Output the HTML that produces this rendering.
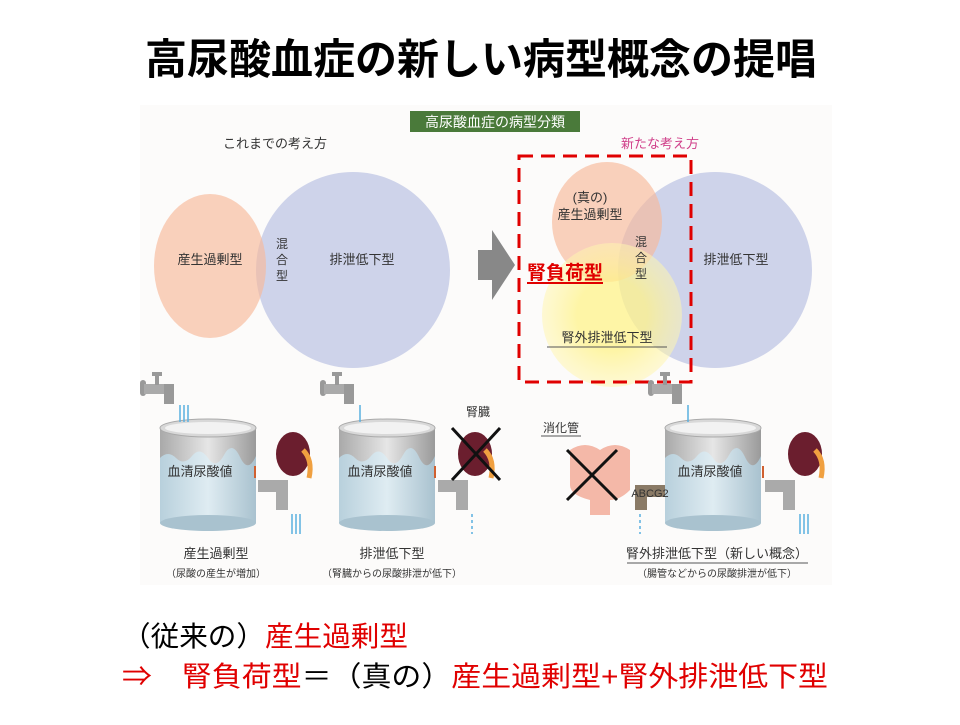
<!DOCTYPE html>
<html><head><meta charset="utf-8"><style>
body{margin:0;width:960px;height:720px;background:#fff;overflow:hidden;font-family:"Liberation Sans","Noto Sans CJK JP",sans-serif}
svg text{font-family:"Liberation Sans","Noto Sans CJK JP",sans-serif}
</style></head><body>
<svg width="960" height="720" viewBox="0 0 960 720">
<defs>
<linearGradient id="tank" x1="0" x2="1"><stop offset="0" stop-color="#b8d0dc"/><stop offset="0.5" stop-color="#dfecf2"/><stop offset="1" stop-color="#a9c2cf"/></linearGradient>
<linearGradient id="tankTop" x1="0" x2="1"><stop offset="0" stop-color="#a9a9a9"/><stop offset="0.5" stop-color="#e6e6e6"/><stop offset="1" stop-color="#9a9a9a"/></linearGradient>
<radialGradient id="yel"><stop offset="0.5" stop-color="#fff38a"/><stop offset="1" stop-color="#fff6b0" stop-opacity="0.7"/></radialGradient>
<g id="tk">
<rect x="0" y="10" width="96" height="95" fill="url(#tankTop)"/>
<path d="M0 40 q8 -8 16 0 t16 -2 t16 2 t16 -3 t16 2 t16 -1 V105 H0Z" fill="url(#tank)"/>
<ellipse cx="48" cy="105" rx="48" ry="8" fill="#a9c2cf"/>
<ellipse cx="48" cy="10" rx="48" ry="9" fill="#d8d8d8" stroke="#aaa"/>
<ellipse cx="48" cy="10" rx="43" ry="6" fill="#f2f2f2"/>
</g>
<g id="tap">
<rect x="0" y="8" width="6" height="16" rx="3" fill="#999"/>
<rect x="4" y="12" width="28" height="10" fill="#aaa"/>
<rect x="12" y="0" width="10" height="4" fill="#999"/><rect x="15" y="3" width="4" height="10" fill="#999"/>
<rect x="24" y="12" width="10" height="20" fill="#999"/>
</g>
<g id="kid">
<ellipse cx="18" cy="22" rx="17" ry="22" fill="#6b1e2e"/>
<path d="M28 18 q10 10 6 28" stroke="#f0a040" stroke-width="5" fill="none"/>
</g>
</defs>
<text x="481" y="74" font-size="42" font-weight="bold" text-anchor="middle">高尿酸血症の新しい病型概念の提唱</text>
<rect x="140" y="105" width="692" height="480" fill="#fcfbfa"/>
<rect x="410" y="111" width="170" height="21" fill="#4a7a3a"/>
<text x="495" y="127" font-size="14" fill="#fff" text-anchor="middle">高尿酸血症の病型分類</text>
<text x="275" y="148" font-size="13" fill="#333" text-anchor="middle">これまでの考え方</text>
<text x="660" y="148" font-size="13" fill="#d0408a" text-anchor="middle">新たな考え方</text>
<ellipse cx="353" cy="270" rx="97" ry="98" fill="#c5cbe6" opacity="0.85"/>
<ellipse cx="210" cy="266" rx="56" ry="72" fill="#f7b89a" opacity="0.65"/>
<text x="210" y="264" font-size="13" fill="#333" text-anchor="middle">産生過剰型</text>
<text x="282" y="248" font-size="12" fill="#333" text-anchor="middle">混</text>
<text x="282" y="264" font-size="12" fill="#333" text-anchor="middle">合</text>
<text x="282" y="280" font-size="12" fill="#333" text-anchor="middle">型</text>
<text x="362" y="264" font-size="13" fill="#333" text-anchor="middle">排泄低下型</text>
<path d="M478 250 H492 V230 L515 265 L492 300 V280 H478Z" fill="#888"/>
<ellipse cx="715" cy="270" rx="97" ry="98" fill="#c5cbe6" opacity="0.85"/>
<ellipse cx="607" cy="222" rx="55" ry="60" fill="#f7b89a" opacity="0.65"/>
<ellipse cx="612" cy="315" rx="70" ry="72" fill="url(#yel)" opacity="0.75"/>
<text x="590" y="202" font-size="13" fill="#333" text-anchor="middle">(真の)</text>
<text x="590" y="219" font-size="13" fill="#333" text-anchor="middle">産生過剰型</text>
<text x="641" y="246" font-size="12" fill="#333" text-anchor="middle">混</text>
<text x="641" y="262" font-size="12" fill="#333" text-anchor="middle">合</text>
<text x="641" y="278" font-size="12" fill="#333" text-anchor="middle">型</text>
<text x="736" y="264" font-size="13" fill="#333" text-anchor="middle">排泄低下型</text>
<text x="607" y="342" font-size="13" fill="#333" text-anchor="middle">腎外排泄低下型</text>
<line x1="547" y1="347" x2="667" y2="347" stroke="#555"/>
<text x="527" y="279" font-size="19" font-weight="bold" fill="#e00000">腎負荷型</text>
<line x1="527" y1="283" x2="603" y2="283" stroke="#e00000" stroke-width="2"/>
<rect x="519" y="156" width="172" height="226" fill="none" stroke="#e00000" stroke-width="3" stroke-dasharray="14 8"/>
<use href="#tk" x="160" y="418"/><use href="#tk" x="339" y="418"/><use href="#tk" x="665" y="418"/>
<use href="#tap" x="140" y="372"/><use href="#tap" x="320" y="372"/><use href="#tap" x="648" y="372"/>
<g stroke="#5ab0e0" stroke-width="1.5">
<line x1="180" y1="405" x2="180" y2="422"/><line x1="184" y1="405" x2="184" y2="422"/><line x1="188" y1="405" x2="188" y2="422"/>
<line x1="360" y1="405" x2="360" y2="422"/><line x1="688" y1="405" x2="688" y2="422"/>
<line x1="292" y1="514" x2="292" y2="534"/><line x1="296" y1="514" x2="296" y2="534"/><line x1="300" y1="514" x2="300" y2="534"/>
<line x1="800" y1="514" x2="800" y2="534"/><line x1="804" y1="514" x2="804" y2="534"/><line x1="808" y1="514" x2="808" y2="534"/>
<line x1="472" y1="514" x2="472" y2="534" stroke-dasharray="3 3"/><line x1="640" y1="514" x2="640" y2="534" stroke-dasharray="3 3"/>
</g>
<g fill="#aaa"><path d="M258 480 h30 v30 h-12 v-18 h-18z"/><path d="M438 480 h30 v30 h-12 v-18 h-18z"/><path d="M765 480 h30 v30 h-12 v-18 h-18z"/></g>
<path d="M665 485 h-30 v25 h12 v-13 h18z" fill="#8a7a66"/>
<text x="650" y="497" font-size="11" fill="#333" text-anchor="middle">ABCG2</text>
<text x="200" y="476" font-size="13" fill="#333" text-anchor="middle">血清尿酸値</text>
<text x="380" y="476" font-size="13" fill="#333" text-anchor="middle">血清尿酸値</text>
<text x="710" y="476" font-size="13" fill="#333" text-anchor="middle">血清尿酸値</text>
<g fill="#d06030"><rect x="254" y="466" width="2" height="12"/><rect x="434" y="466" width="2" height="12"/><rect x="762" y="466" width="2" height="12"/></g>
<use href="#kid" x="275" y="432"/><use href="#kid" x="457" y="432"/><use href="#kid" x="787" y="432"/>
<path d="M570 450 q15 -10 30 0 q15 -10 30 0 v40 q-10 10 -20 10 v15 h-20 v-15 q-20 -5 -20 -15z" fill="#f4b8a8"/>
<g stroke="#111" stroke-width="3"><line x1="452" y1="428" x2="500" y2="480"/><line x1="500" y1="428" x2="452" y2="480"/>
<line x1="567" y1="450" x2="617" y2="500"/><line x1="617" y1="450" x2="567" y2="500"/></g>
<text x="478" y="416" font-size="12" fill="#333" text-anchor="middle">腎臓</text>
<text x="561" y="432" font-size="12" fill="#333" text-anchor="middle">消化管</text>
<line x1="541" y1="436" x2="581" y2="436" stroke="#555"/>
<text x="216" y="558" font-size="13" fill="#333" text-anchor="middle">産生過剰型</text>
<text x="216" y="577" font-size="10" fill="#333" text-anchor="middle">（尿酸の産生が増加）</text>
<text x="392" y="558" font-size="13" fill="#333" text-anchor="middle">排泄低下型</text>
<text x="392" y="577" font-size="10" fill="#333" text-anchor="middle">（腎臓からの尿酸排泄が低下）</text>
<text x="717" y="558" font-size="13" fill="#333" text-anchor="middle">腎外排泄低下型（新しい概念）</text>
<line x1="627" y1="563" x2="808" y2="563" stroke="#555"/>
<text x="717" y="577" font-size="10" fill="#333" text-anchor="middle">（腸管などからの尿酸排泄が低下）</text>
<text x="122" y="646" font-size="28" textLength="286" lengthAdjust="spacingAndGlyphs">（従来の）<tspan fill="#e00000">産生過剰型</tspan></text>
<text x="122" y="686" font-size="28" fill="#e00000" textLength="706" lengthAdjust="spacingAndGlyphs">⇒　腎負荷型<tspan fill="#000">＝（真の）</tspan>産生過剰型+腎外排泄低下型</text>
</svg>
</body></html>
